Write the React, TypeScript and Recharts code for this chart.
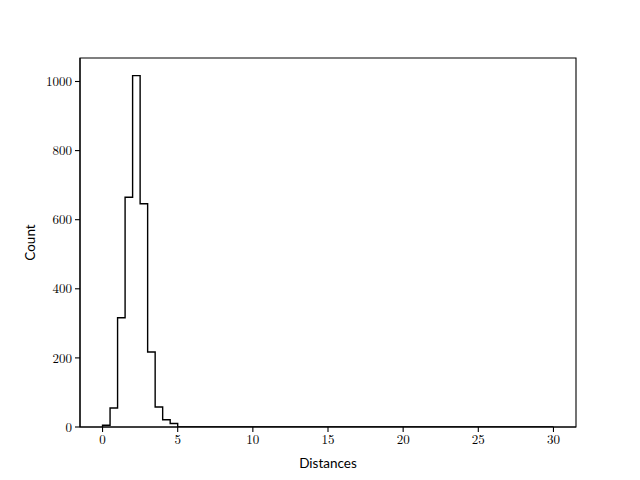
import {
  ComposedChart,
  Line,
  ReferenceArea,
  XAxis,
  YAxis,
} from 'recharts'

// histogram of distances, bin width 0.5 from 0 to 30
const binStart = 0
const binWidth = 0.5
const counts = [
  5, 55, 316, 665, 1017, 646, 217, 58, 21, 10,
  0, 0, 0, 0, 0, 0, 0, 0, 0, 0,
  0, 0, 0, 0, 0, 0, 0, 0, 0, 0,
  0, 0, 0, 0, 0, 0, 0, 0, 0, 0,
  0, 0, 0, 0, 0, 0, 0, 0, 0, 0,
  0, 0, 0, 0, 0, 0, 0, 0, 0, 0,
]
const xTicks = [0, 5, 10, 15, 20, 25, 30]
const yTicks = [0, 200, 400, 600, 800, 1000]
const xDomain: [number, number] = [-1.5, 31.5]
const yDomain: [number, number] = [0, 1068]

const serif = '"Latin Modern Roman", "Liberation Serif", "DejaVu Serif", serif'
const sans = 'Lato, "Liberation Sans", sans-serif'
const axisStroke = { stroke: '#000', strokeWidth: 1.1 }

// step outline: up from 0 at first edge, then each bin, then back down
const stepData = [
  { x: binStart, y: 0 },
  ...counts.map((c, i) => ({ x: binStart + i * binWidth, y: c })),
  { x: binStart + counts.length * binWidth, y: 0 },
]

export default function App() {
  return (
    <div style={{ position: 'absolute', left: 0, top: 0, width: 640, height: 480, background: '#fff' }}>
      <ComposedChart
        width={640}
        height={480}
        data={stepData}
        margin={{ top: 58, right: 64, bottom: 0, left: 0 }}
      >
        <XAxis
          dataKey="x"
          type="number"
          domain={xDomain}
          ticks={xTicks}
          allowDataOverflow
          height={53}
          tickSize={5}
          tickMargin={3}
          axisLine={axisStroke}
          tickLine={axisStroke}
          tick={{ fontSize: 13, fill: '#000', fontFamily: serif }}
          label={{
            value: 'Distances',
            position: 'insideBottom',
            offset: 12,
            style: { fontSize: 13.5, fill: '#000', fontFamily: sans },
          }}
        />
        <YAxis
          type="number"
          domain={yDomain}
          ticks={yTicks}
          allowDataOverflow
          width={80}
          tickSize={5}
          tickMargin={3}
          axisLine={axisStroke}
          tickLine={axisStroke}
          tick={{ fontSize: 13, fill: '#000', fontFamily: serif }}
          label={{
            content: ({ viewBox }: any) => {
              const cx = 30
              const cy = viewBox.y + viewBox.height / 2
              return (
                <text
                  x={cx}
                  y={cy}
                  transform={`rotate(-90 ${cx} ${cy})`}
                  textAnchor="middle"
                  dominantBaseline="central"
                  fontSize={13.5}
                  fontFamily={sans}
                  fill="#000"
                >
                  Count
                </text>
              )
            },
          }}
        />
        {/* axes frame */}
        <ReferenceArea
          x1={xDomain[0]}
          x2={xDomain[1]}
          y1={yDomain[0]}
          y2={yDomain[1]}
          fill="none"
          fillOpacity={0}
          stroke="#000"
          strokeWidth={1.1}
          ifOverflow="visible"
        />
        <Line
          dataKey="y"
          type="stepAfter"
          stroke="#000"
          strokeWidth={1.4}
          dot={false}
          activeDot={false}
          isAnimationActive={false}
        />
      </ComposedChart>
    </div>
  )
}
